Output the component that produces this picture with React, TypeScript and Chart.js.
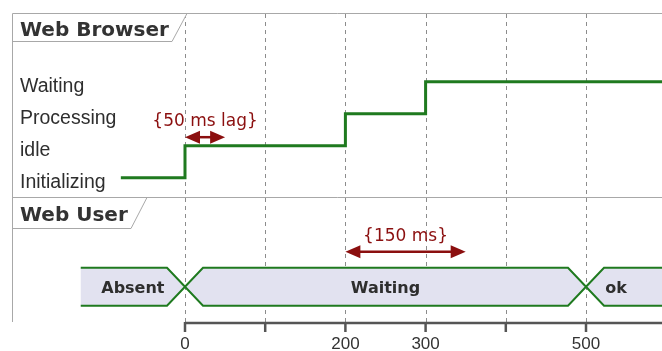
import React, { useEffect, useRef } from "react";
import { Chart, registerables } from "chart.js";

Chart.register(...registerables);

// ---- data ----
const browserStates = ["Initializing", "idle", "Processing", "Waiting"];
const browserChangeTimes = [-80, 0, 200, 300];
const browserChangeStates = ["Initializing", "idle", "Processing", "Waiting"];
const browserEndTime = 620;

const userChangeTimes = [-130, 0, 500];
const userChangeStates = ["Absent", "Waiting", "ok"];
const userLabelEndTime = 575;

const axisTicks = [0, 100, 200, 300, 400, 500];
const axisTickLabels = ["0", "", "200", "300", "", "500"];

const constraintFrom = [0, 200];
const constraintTo = [50, 350];
const constraintLabels = ["{50 ms lag}", "{150 ms}"];
const constraintRows = ["browser", "user"];

const X_MIN = -230.67;
const X_MAX = 594.76;
const Y_MIN = -5.416;
const Y_MAX = 5.553;
const USER_ROW = -3.41;

const GREEN = "#1f7a1f";
const RED = "#8b0f0f";
const FRAME = "#a8a8a8";

function drawArrow(ctx: CanvasRenderingContext2D, x1: number, x2: number, y: number) {
  const hl = 15;
  const hw = 6.5;
  ctx.save();
  ctx.strokeStyle = RED;
  ctx.fillStyle = RED;
  ctx.lineWidth = 2.5;
  ctx.beginPath();
  ctx.moveTo(x1 + hl - 2, y);
  ctx.lineTo(x2 - hl + 2, y);
  ctx.stroke();
  ctx.beginPath();
  ctx.moveTo(x1, y);
  ctx.lineTo(x1 + hl, y - hw);
  ctx.lineTo(x1 + hl, y + hw);
  ctx.closePath();
  ctx.fill();
  ctx.beginPath();
  ctx.moveTo(x2, y);
  ctx.lineTo(x2 - hl, y - hw);
  ctx.lineTo(x2 - hl, y + hw);
  ctx.closePath();
  ctx.fill();
  ctx.restore();
}

const timingPlugin = {
  id: "timingDecor",
  beforeDatasetsDraw(chart: any) {
    const ctx: CanvasRenderingContext2D = chart.ctx;
    const xs = chart.scales.x;
    const ys = chart.scales.y;
    const right = chart.chartArea.right;
    ctx.save();
    // dashed grid
    ctx.strokeStyle = "#8c8c8c";
    ctx.lineWidth = 1;
    ctx.setLineDash([4, 4]);
    axisTicks.forEach((t) => {
      const x = Math.round(xs.getPixelForValue(t)) + 0.5;
      ctx.beginPath();
      ctx.moveTo(x, 14);
      ctx.lineTo(x, 322);
      ctx.stroke();
    });
    ctx.setLineDash([]);
    // frames
    ctx.strokeStyle = FRAME;
    ctx.lineWidth = 1;
    ctx.beginPath();
    ctx.moveTo(12.5, 13.5);
    ctx.lineTo(right, 13.5);
    ctx.moveTo(12.5, 13.5);
    ctx.lineTo(12.5, 322);
    ctx.moveTo(12.5, 197.5);
    ctx.lineTo(right, 197.5);
    ctx.stroke();
    // title boxes
    const boxes = [
      { y0: 13.5, y1: 41.5, xt: 187, xb: 172, label: "Web Browser", base: 36 },
      { y0: 197.5, y1: 228.5, xt: 147, xb: 131, label: "Web User", base: 221 },
    ];
    boxes.forEach((b) => {
      ctx.fillStyle = "#ffffff";
      ctx.beginPath();
      ctx.moveTo(13, b.y0 + 0.5);
      ctx.lineTo(b.xt, b.y0 + 0.5);
      ctx.lineTo(b.xb, b.y1);
      ctx.lineTo(13, b.y1);
      ctx.closePath();
      ctx.fill();
      ctx.strokeStyle = FRAME;
      ctx.beginPath();
      ctx.moveTo(12.5, b.y1);
      ctx.lineTo(b.xb, b.y1);
      ctx.lineTo(b.xt, b.y0);
      ctx.stroke();
      ctx.fillStyle = "#333333";
      ctx.font = 'bold 20px "DejaVu Sans"';
      ctx.textAlign = "left";
      ctx.textBaseline = "alphabetic";
      ctx.fillText(b.label, 20, b.base);
    });
    // state labels
    ctx.fillStyle = "#2e2e2e";
    ctx.font = '19.5px "Liberation Sans"';
    browserStates.forEach((s, i) => {
      const y = ys.getPixelForValue(i);
      ctx.fillText(s, 20, y + 10.5);
    });
    ctx.restore();
  },
  afterDatasetsDraw(chart: any) {
    const ctx: CanvasRenderingContext2D = chart.ctx;
    const xs = chart.scales.x;
    const ys = chart.scales.y;
    const right = chart.chartArea.right;
    ctx.save();
    // user band
    const cy = ys.getPixelForValue(USER_ROW);
    const hh = 19;
    const tw = 18;
    const last = userChangeStates.length - 1;
    const px = userChangeTimes.map((t) => xs.getPixelForValue(t));
    const ends = px.slice(1).concat([right + 40]);
    userChangeStates.forEach((s, i) => {
      const x0 = px[i];
      const x1 = ends[i];
      const l = i === 0 ? x0 : x0 + tw;
      const r = i === last ? x1 : x1 - tw;
      // fill
      ctx.beginPath();
      if (i === 0) ctx.moveTo(x0, cy - hh);
      else {
        ctx.moveTo(x0, cy);
        ctx.lineTo(l, cy - hh);
      }
      ctx.lineTo(r, cy - hh);
      if (i < last) {
        ctx.lineTo(x1, cy);
        ctx.lineTo(r, cy + hh);
      } else {
        ctx.lineTo(x1, cy - hh);
        ctx.lineTo(x1, cy + hh);
      }
      ctx.lineTo(l, cy + hh);
      if (i === 0) ctx.lineTo(x0, cy + hh);
      else ctx.lineTo(x0, cy);
      ctx.closePath();
      ctx.fillStyle = "#e2e2f0";
      ctx.fill();
      // border (top and bottom edges, no vertical ends)
      ctx.strokeStyle = GREEN;
      ctx.lineWidth = 2;
      ctx.beginPath();
      if (i === 0) ctx.moveTo(x0, cy - hh);
      else {
        ctx.moveTo(x0, cy);
        ctx.lineTo(l, cy - hh);
      }
      ctx.lineTo(r, cy - hh);
      if (i < last) ctx.lineTo(x1, cy);
      else ctx.lineTo(x1, cy - hh);
      if (i < last) {
        ctx.moveTo(x1, cy);
        ctx.lineTo(r, cy + hh);
      } else ctx.moveTo(x1, cy + hh);
      ctx.lineTo(l, cy + hh);
      if (i === 0) ctx.lineTo(x0, cy + hh);
      else ctx.lineTo(x0, cy);
      ctx.stroke();
      // label
      const lx1 = i === last ? xs.getPixelForValue(userLabelEndTime) : x1;
      ctx.fillStyle = "#2e2e2e";
      ctx.font = 'bold 16px "DejaVu Sans"';
      ctx.textAlign = "center";
      ctx.textBaseline = "alphabetic";
      ctx.fillText(s, (x0 + lx1) / 2, cy + 6);
    });
    // constraints
    constraintLabels.forEach((lab, i) => {
      const x1 = xs.getPixelForValue(constraintFrom[i]);
      const x2 = xs.getPixelForValue(constraintTo[i]);
      const ay = constraintRows[i] === "browser" ? ys.getPixelForValue(1) - 8.5 : cy - 35;
      drawArrow(ctx, x1, x2, ay);
      ctx.fillStyle = RED;
      ctx.font = '17px "DejaVu Sans"';
      ctx.textAlign = "center";
      ctx.textBaseline = "alphabetic";
      ctx.fillText(lab, (x1 + x2) / 2, ay - 11);
    });
    // bottom axis
    const ax0 = xs.getPixelForValue(axisTicks[0]);
    ctx.strokeStyle = "#555555";
    ctx.lineWidth = 2.5;
    ctx.beginPath();
    ctx.moveTo(ax0, 323);
    ctx.lineTo(right, 323);
    ctx.stroke();
    ctx.font = '17px "Liberation Sans"';
    ctx.fillStyle = "#333333";
    ctx.textAlign = "center";
    axisTicks.forEach((t, i) => {
      const x = xs.getPixelForValue(t);
      ctx.beginPath();
      ctx.moveTo(x, 322);
      ctx.lineTo(x, 332);
      ctx.stroke();
      if (axisTickLabels[i]) ctx.fillText(axisTickLabels[i], x, 349);
    });
    ctx.restore();
  },
};

export default function App() {
  const ref = useRef<HTMLCanvasElement | null>(null);
  useEffect(() => {
    if (!ref.current) return;
    const idx = (s: string) => browserStates.indexOf(s);
    const pts = browserChangeTimes.map((t, i) => ({ x: t, y: idx(browserChangeStates[i]) }));
    pts.push({ x: browserEndTime, y: idx(browserChangeStates[browserChangeStates.length - 1]) });
    const chart = new Chart(ref.current, {
      type: "line",
      data: {
        datasets: [
          {
            label: "Web Browser",
            data: pts,
            stepped: true,
            borderColor: GREEN,
            borderWidth: 3,
            pointRadius: 0,
            fill: false,
          },
        ],
      },
      options: {
        animation: false,
        responsive: false,
        devicePixelRatio: 1,
        layout: { padding: 0 },
        plugins: { legend: { display: false }, tooltip: { enabled: false }, title: { display: false } },
        scales: {
          x: { type: "linear", min: X_MIN, max: X_MAX, display: false },
          y: { type: "linear", min: Y_MIN, max: Y_MAX, display: false },
        },
      },
      plugins: [timingPlugin],
    });
    return () => chart.destroy();
  }, []);
  return (
    <div style={{ position: "fixed", left: 0, top: 0, width: 662, height: 351, background: "#fff" }}>
      <canvas ref={ref} width={662} height={351} />
    </div>
  );
}
